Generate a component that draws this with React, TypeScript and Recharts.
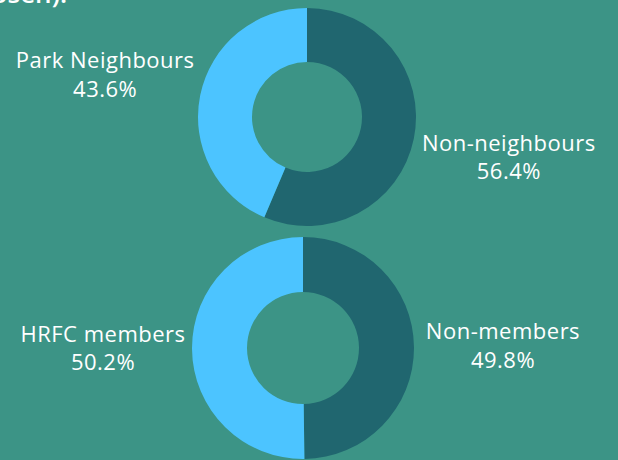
import React from "react"
import { PieChart, Pie, Cell } from "recharts"

const neighbourNames = ["Non-neighbours", "Park Neighbours"]
const neighbourShares = [56.4, 43.6]

const memberNames = ["Non-members", "HRFC members"]
const memberShares = [49.8, 50.2]

const sliceColors = ["#20666f", "#4cc4ff"]
const BG = "#3c9486"
const RAD = Math.PI / 180

const neighbourData = neighbourNames.map((name, i) => ({ name, value: neighbourShares[i] }))
const memberData = memberNames.map((name, i) => ({ name, value: memberShares[i] }))

function makeLabel(distance: number) {
  return (props: any) => {
    const { cx, cy, midAngle, name, value } = props
    const x = cx + distance * Math.cos(-midAngle * RAD)
    const y = cy + distance * Math.sin(-midAngle * RAD)
    return (
      <text
        x={x}
        y={y}
        textAnchor="middle"
        fill="#ffffff"
        fontFamily="'Open Sans', sans-serif"
        fontSize={22}
        letterSpacing={0.5}
      >
        <tspan x={x} dy={-7.5}>{name}</tspan>
        <tspan x={x} dy={28.5}>{`${value.toFixed(1)}%`}</tspan>
      </text>
    )
  }
}

export default function App() {
  return (
    <div
      style={{
        position: "fixed",
        top: 0,
        left: 0,
        width: 618,
        height: 460,
        background: BG,
        overflow: "hidden",
      }}
    >
      <PieChart width={618} height={460} margin={{ top: 0, right: 0, bottom: 0, left: 0 }}>
        <text
          x={67}
          y={3}
          textAnchor="end"
          fill="#ffffff"
          fontFamily="'Open Sans', sans-serif"
          fontWeight={600}
          fontSize={26}
        >
          chosen).
        </text>
        <Pie
          data={neighbourData}
          dataKey="value"
          nameKey="name"
          cx={307}
          cy={117}
          innerRadius={55}
          outerRadius={109}
          startAngle={90}
          endAngle={-270}
          stroke="none"
          labelLine={false}
          label={makeLabel(206)}
          isAnimationActive={false}
        >
          {neighbourData.map((d, i) => (
            <Cell key={d.name} fill={sliceColors[i]} />
          ))}
        </Pie>
        <Pie
          data={memberData}
          dataKey="value"
          nameKey="name"
          cx={303}
          cy={348}
          innerRadius={56}
          outerRadius={111}
          startAngle={90}
          endAngle={-270}
          stroke="none"
          labelLine={false}
          label={makeLabel(200)}
          isAnimationActive={false}
        >
          {memberData.map((d, i) => (
            <Cell key={d.name} fill={sliceColors[i]} />
          ))}
        </Pie>
      </PieChart>
    </div>
  )
}
